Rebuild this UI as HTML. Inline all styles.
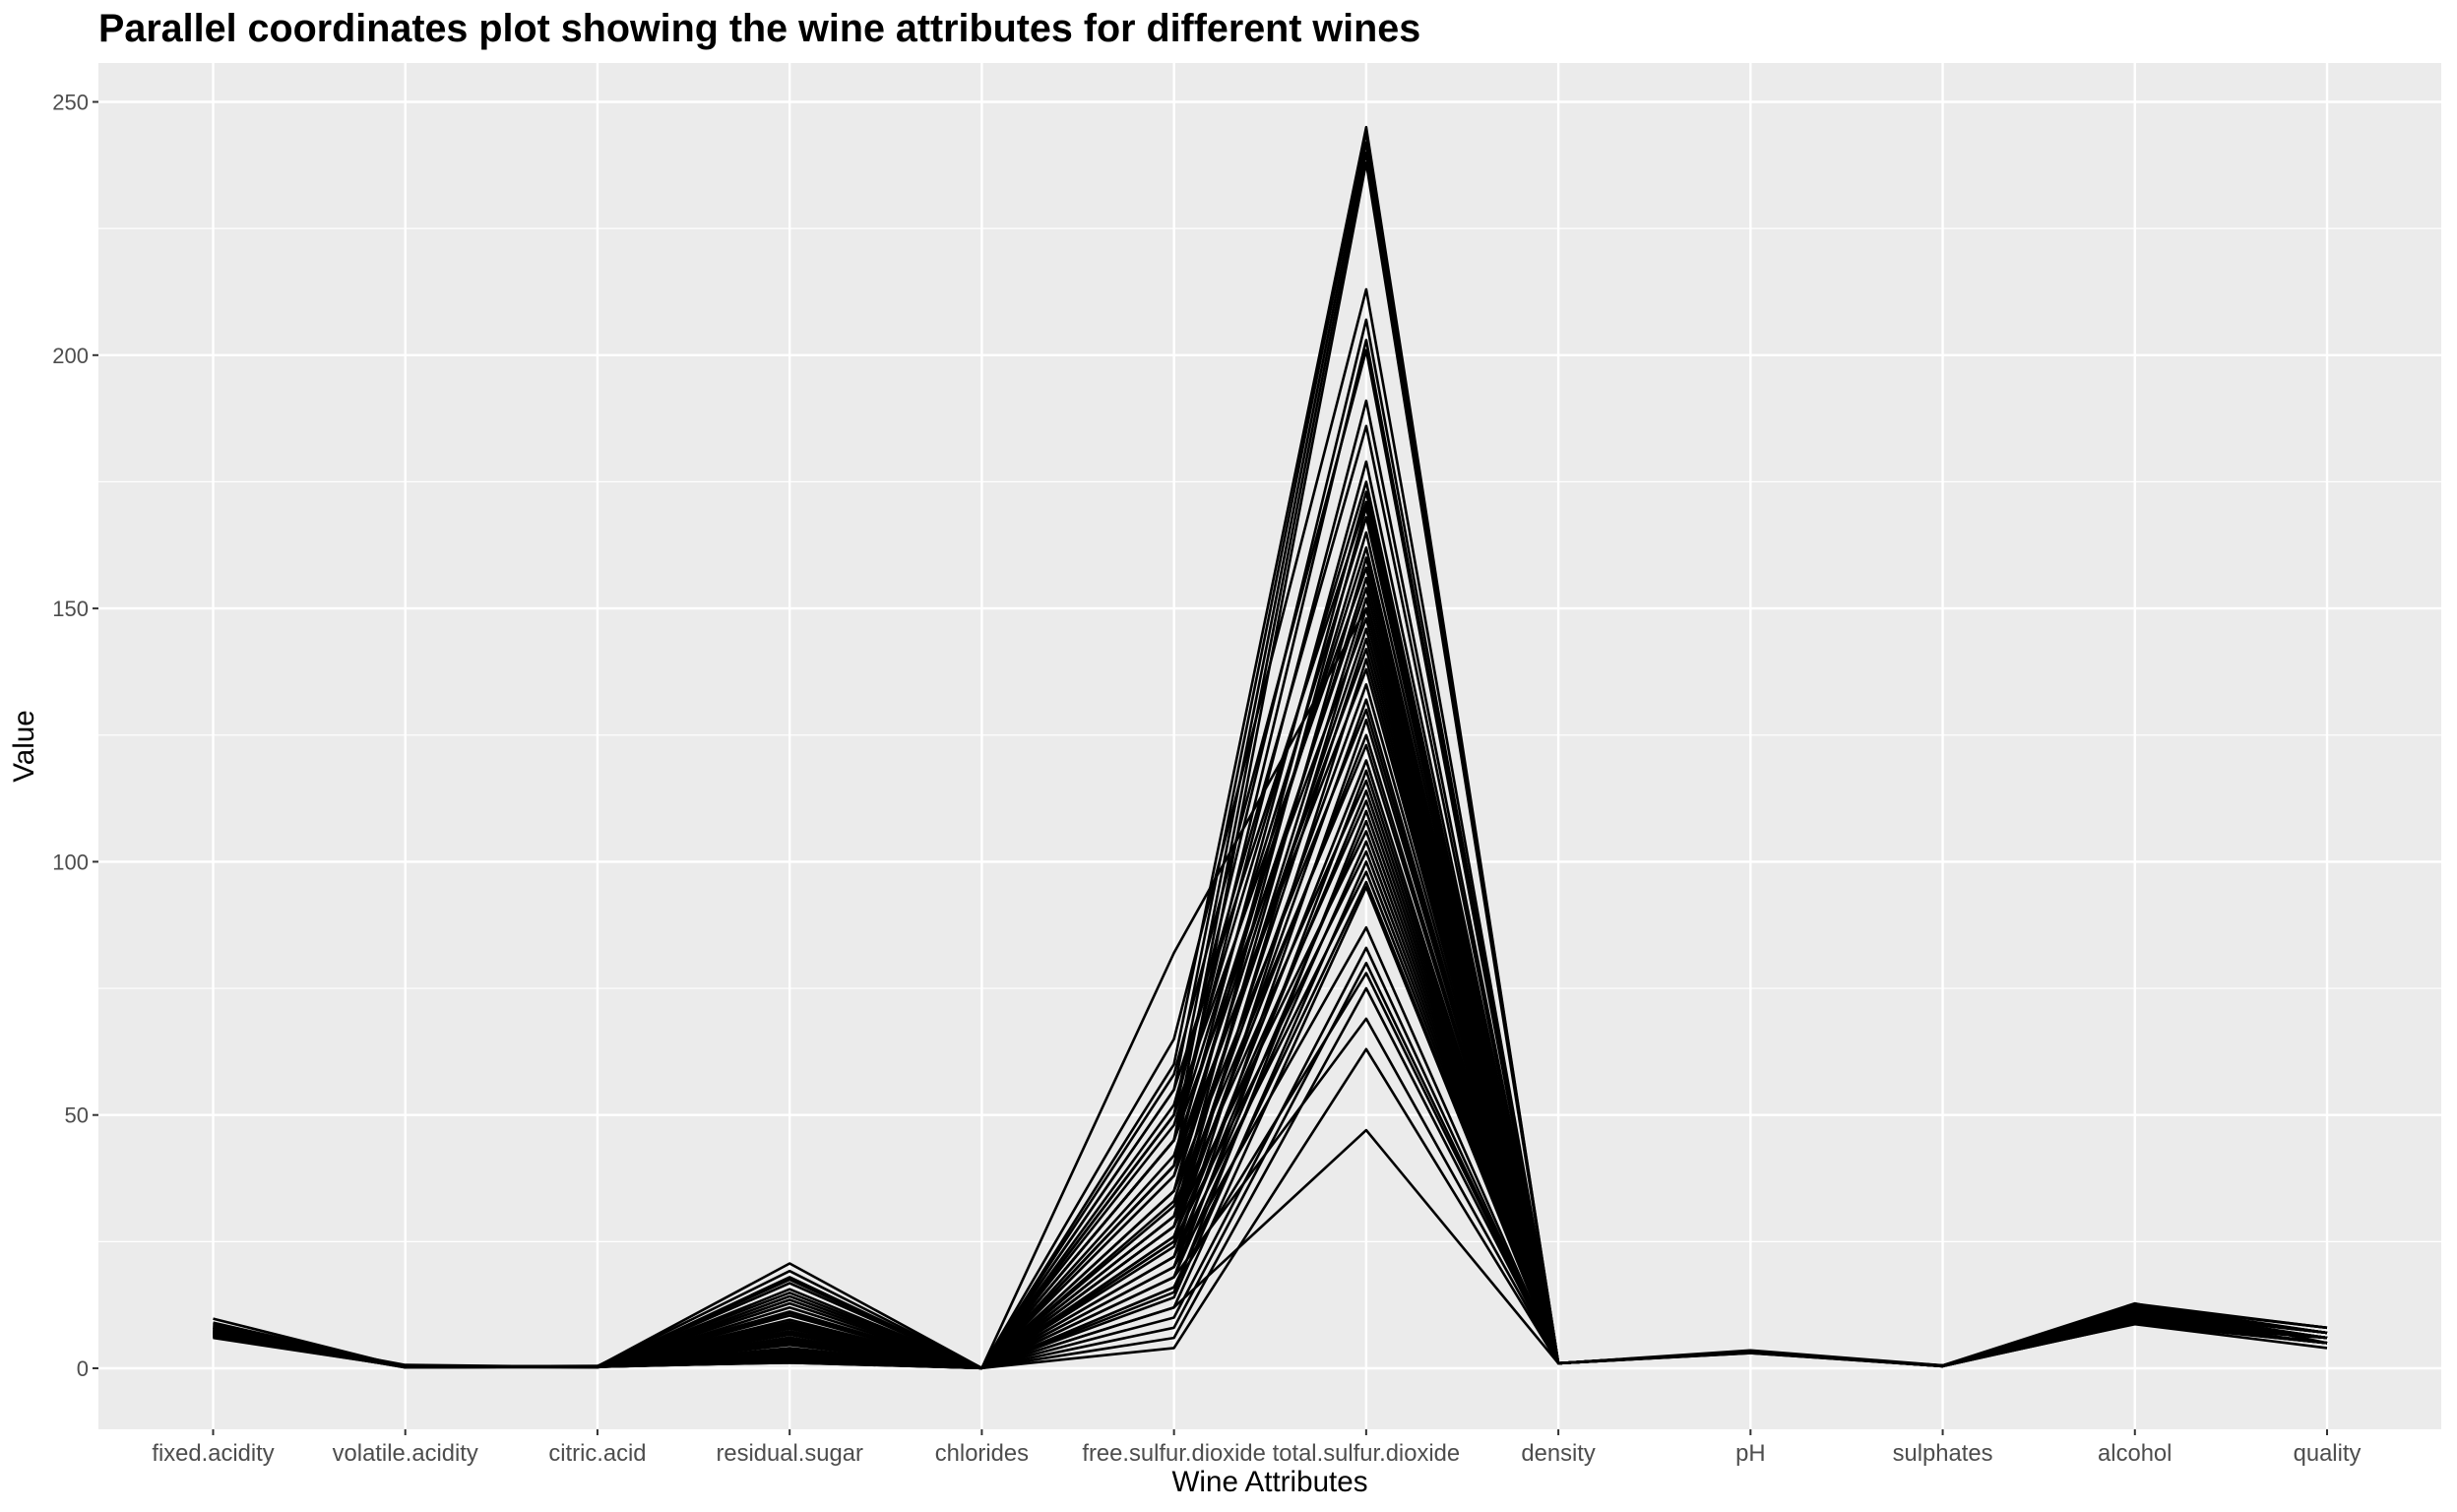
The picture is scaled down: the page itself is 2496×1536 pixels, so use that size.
<!DOCTYPE html>
<html><head><meta charset="utf-8"><style>
html,body{margin:0;padding:0;background:#fff;}
svg{display:block;font-family:"Liberation Sans",sans-serif;}
</style></head><body>
<svg id="chart" width="2496" height="1536" viewBox="0 0 2496 1536" xmlns="http://www.w3.org/2000/svg">
<rect x="0" y="0" width="2496" height="1536" fill="#fff"/>
<text x="100" y="42" font-size="39.5" font-weight="bold" fill="#000">Parallel coordinates plot showing the wine attributes for different wines</text>
<rect x="100" y="64" width="2380" height="1388" fill="#ebebeb"/>
<g id="grid"></g>
<g id="lines"></g>
<g id="axes"></g>
<text x="1290" y="1515" font-size="29.6" text-anchor="middle" fill="#000">Wine Attributes</text>
<text transform="translate(34,758) rotate(-90)" font-size="29.6" text-anchor="middle" fill="#000">Value</text>
</svg>
<script>
const attributes = ["fixed.acidity","volatile.acidity","citric.acid","residual.sugar","chlorides","free.sulfur.dioxide","total.sulfur.dioxide","density","pH","sulphates","alcohol","quality"];
const yTicks = [0,50,100,150,200,250];
const fixedAcidity = [7.0,6.3,8.1,7.2,6.2,8.1,7.4,6.6,7.9,6.8,6.5,7.6,8.5,6.9,7.3,6.0,7.8,9.8,6.4,7.1,8.3,6.7,7.5,6.1,8.8,7.0,6.6,7.2,8.0,6.8,7.4,6.3,7.7,6.9,8.6,6.2,7.3,6.5,9.0,7.1,6.7,7.6,8.2,6.4,7.0,6.8,7.9,6.6,7.2,8.4,6.9,7.5,6.3,7.1,8.0,6.5,7.3,6.8,7.6,7.0];
const volatileAcidity = [0.27,0.30,0.28,0.23,0.32,0.22,0.27,0.16,0.43,0.26,0.31,0.67,0.24,0.19,0.35,0.28,0.21,0.29,0.33,0.25,0.42,0.18,0.27,0.30,0.22,0.36,0.24,0.31,0.20,0.28,0.26,0.34,0.23,0.29,0.19,0.32,0.25,0.27,0.38,0.21,0.30,0.24,0.28,0.33,0.26,0.22,0.29,0.35,0.25,0.27,0.31,0.23,0.28,0.26,0.30,0.24,0.33,0.27,0.29,0.25];
const citricAcid = [0.36,0.34,0.40,0.32,0.16,0.43,0.41,0.24,0.21,0.49,0.30,0.26,0.38,0.33,0.29,0.45,0.31,0.27,0.35,0.39,0.22,0.30,0.34,0.28,0.44,0.37,0.25,0.32,0.40,0.29,0.36,0.31,0.27,0.42,0.33,0.30,0.38,0.26,0.35,0.32,0.29,0.41,0.34,0.28,0.37,0.31,0.30,0.33,0.39,0.27,0.36,0.32,0.29,0.34,0.30,0.38,0.28,0.35,0.31,0.33];
const residualSugar = [20.7,1.6,6.9,8.5,7.0,1.5,14.9,18.0,12.0,2.1,1.2,16.8,9.6,3.4,1.4,11.2,4.6,1.8,13.5,1.1,7.8,2.5,10.4,1.3,5.2,15.6,1.9,8.9,1.6,6.1,3.0,12.8,1.2,19.2,2.2,5.7,1.5,9.1,4.0,1.7,14.2,2.8,1.4,7.3,1.1,10.9,3.6,1.8,6.6,1.3,2.4,17.5,1.6,4.8,1.2,8.2,2.0,1.5,5.5,1.9];
const chlorides = [0.045,0.049,0.050,0.058,0.045,0.044,0.044,0.036,0.041,0.040,0.048,0.052,0.039,0.046,0.043,0.050,0.038,0.047,0.042,0.044,0.051,0.040,0.045,0.037,0.049,0.043,0.041,0.046,0.039,0.048,0.044,0.042,0.050,0.038,0.045,0.047,0.041,0.043,0.046,0.040,0.044,0.048,0.042,0.039,0.045,0.043,0.047,0.041,0.044,0.046,0.040,0.042,0.045,0.043,0.048,0.041,0.044,0.046,0.042,0.043];
const freeSulfurDioxide = [60,55,50,45,40,65,50,45,58,45,52,40,48,35,55,30,45,38,42,28,50,35,40,30,25,45,33,28,38,22,40,30,26,35,20,28,32,24,18,30,22,26,15,20,28,18,25,14,22,16,12,20,10,82,8,16,6,18,4,12];
const totalSulfurDioxide = [245,244,242,240,238,213,207,203,201,191,186,179,175,173,171,170,168,165,162,160,158,156,154,152,150,148,146,144,142,140,138,135,132,130,128,125,123,120,118,116,114,112,110,108,106,104,102,100,98,96,95,87,83,150,80,78,75,69,63,47];
const density = [1.001,0.994,0.995,0.996,0.996,0.994,0.995,0.998,0.997,0.993,0.992,0.999,0.996,0.993,0.992,0.997,0.994,0.993,0.998,0.992,0.996,0.993,0.997,0.992,0.995,0.998,0.993,0.996,0.992,0.995,0.994,0.997,0.992,0.999,0.993,0.995,0.992,0.996,0.994,0.993,0.998,0.994,0.992,0.996,0.992,0.997,0.994,0.993,0.995,0.992,0.994,0.999,0.993,0.995,0.992,0.996,0.993,0.992,0.995,0.993];
const pH = [3.00,3.30,3.26,3.19,3.18,3.22,3.18,3.00,3.54,3.28,3.12,3.25,3.20,3.35,3.10,3.22,3.30,3.05,3.15,3.40,3.24,3.18,3.28,3.14,3.33,3.20,3.26,3.08,3.36,3.22,3.18,3.30,3.12,3.24,3.38,3.16,3.28,3.20,3.10,3.32,3.22,3.18,3.26,3.14,3.30,3.20,3.24,3.36,3.18,3.28,3.22,3.12,3.34,3.20,3.26,3.16,3.30,3.22,3.18,3.24];
const sulphates = [0.45,0.49,0.44,0.40,0.47,0.45,0.45,0.42,0.56,0.52,0.38,0.50,0.46,0.44,0.48,0.41,0.53,0.47,0.43,0.51,0.45,0.49,0.42,0.55,0.46,0.44,0.50,0.47,0.43,0.52,0.48,0.45,0.41,0.54,0.46,0.49,0.44,0.47,0.51,0.43,0.48,0.45,0.50,0.42,0.53,0.46,0.44,0.49,0.47,0.45,0.52,0.43,0.48,0.46,0.50,0.44,0.47,0.45,0.49,0.46];
const alcohol = [8.8,9.5,10.1,9.9,9.6,11.0,9.6,9.4,12.8,11.5,12.4,9.2,10.5,12.0,11.8,9.0,10.8,12.6,9.3,11.2,10.0,12.2,9.7,11.6,10.4,8.9,12.1,9.8,11.4,10.6,10.9,9.1,12.5,8.7,11.7,10.3,12.3,9.5,10.7,11.9,9.0,11.1,12.7,10.2,11.3,9.4,10.6,12.0,10.1,11.5,10.8,8.8,12.4,10.0,11.6,9.7,11.0,12.2,10.4,11.3];
const quality = [6,6,6,6,6,6,6,6,5,7,8,5,6,7,6,5,6,7,5,7,6,7,5,6,6,5,7,6,7,6,6,5,8,4,7,6,7,5,6,7,5,6,8,6,7,5,6,7,6,6,6,5,7,6,7,5,6,7,6,6];
const series = [fixedAcidity,volatileAcidity,citricAcid,residualSugar,chlorides,freeSulfurDioxide,totalSulfurDioxide,density,pH,sulphates,alcohol,quality];

const NS = "http://www.w3.org/2000/svg";
const PL=100, PR=2480, PT=64, PB=1452;
const x0=216.5, xStep=(2364-216.5)/11;
function xScale(i){return x0+i*xStep;}
function yScale(v){return 1390 - v*(1390-103.5)/250;}

const grid=document.getElementById('grid');
for(let k=0;k<yTicks.length-1;k++){
  const v=(yTicks[k]+yTicks[k+1])/2;
  const l=document.createElementNS(NS,'line');
  l.setAttribute('x1',PL);l.setAttribute('x2',PR);l.setAttribute('y1',yScale(v));l.setAttribute('y2',yScale(v));
  l.setAttribute('stroke','#fff');l.setAttribute('stroke-width','1.2');
  
  
  grid.appendChild(l);
}
const axes=document.getElementById('axes');
yTicks.forEach(v=>{
  const y=yScale(v);
  const l=document.createElementNS(NS,'line');
  l.setAttribute('x1',PL);l.setAttribute('x2',PR);l.setAttribute('y1',y);l.setAttribute('y2',y);
  l.setAttribute('stroke','#fff');l.setAttribute('stroke-width','2.4');
  
  
  grid.appendChild(l);
  const t=document.createElementNS(NS,'line');
  t.setAttribute('x1',PL-6);t.setAttribute('x2',PL);t.setAttribute('y1',y);t.setAttribute('y2',y);
  t.setAttribute('stroke','#333');t.setAttribute('stroke-width','2');
  
  
  axes.appendChild(t);
  const tx=document.createElementNS(NS,'text');
  tx.setAttribute('x',PL-10);tx.setAttribute('y',y+8);tx.setAttribute('text-anchor','end');
  tx.setAttribute('font-size','22');tx.setAttribute('fill','#4d4d4d');
  tx.textContent=v;
  
  
  axes.appendChild(tx);
});
attributes.forEach((a,i)=>{
  const x=xScale(i);
  const l=document.createElementNS(NS,'line');
  l.setAttribute('x1',x);l.setAttribute('x2',x);l.setAttribute('y1',PT);l.setAttribute('y2',PB);
  l.setAttribute('stroke','#fff');l.setAttribute('stroke-width','2.4');
  
  
  grid.appendChild(l);
  const t=document.createElementNS(NS,'line');
  t.setAttribute('x1',x);t.setAttribute('x2',x);t.setAttribute('y1',PB);t.setAttribute('y2',PB+6);
  t.setAttribute('stroke','#333');t.setAttribute('stroke-width','2');
  
  
  axes.appendChild(t);
  const tx=document.createElementNS(NS,'text');
  tx.setAttribute('x',x);tx.setAttribute('y',1484);tx.setAttribute('text-anchor','middle');
  tx.setAttribute('font-size','23.8');tx.setAttribute('fill','#4d4d4d');
  tx.textContent=a;
  
  
  axes.appendChild(tx);
});
const lines=document.getElementById('lines');
const n=Math.min(...series.map(s=>s.length));
for(let r=0;r<n;r++){
  const pts=series.map((s,i)=>xScale(i).toFixed(1)+','+yScale(s[r]).toFixed(1)).join(' ');
  const p=document.createElementNS(NS,'polyline');
  p.setAttribute('points',pts);p.setAttribute('fill','none');
  p.setAttribute('stroke','#000');p.setAttribute('stroke-width','2.6');p.setAttribute('stroke-linejoin','round');
  
  
  lines.appendChild(p);
}
</script>
</body></html>
